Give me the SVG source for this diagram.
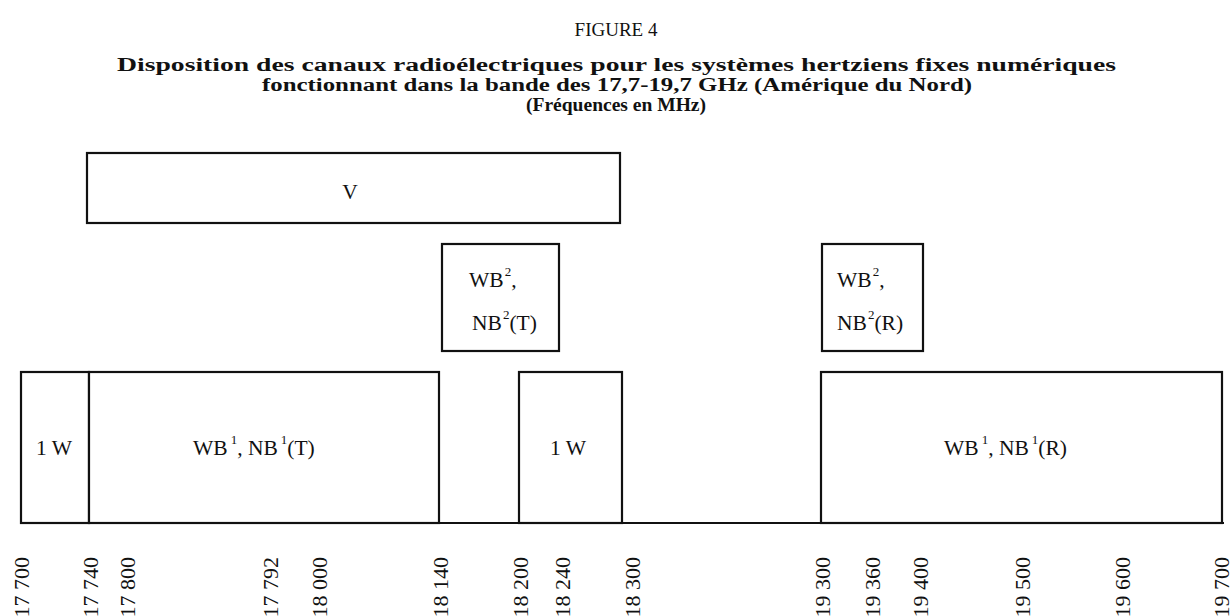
<svg xmlns="http://www.w3.org/2000/svg" width="1232" height="616" viewBox="0 0 1232 616">
<style>
  .t { font-family: "Liberation Serif", "Times New Roman", serif; fill: #111; }
  .title { font-size: 19px; }
  .bold { font-size: 18px; font-weight: bold; }
  .box { fill: #fff; stroke: #111; stroke-width: 2.2; }
  .lbl { font-size: 21.5px; }
  .sup { font-size: 13px; }
  .ax { font-size: 22px; text-anchor: end; }
  .line { stroke: #111; stroke-width: 2.2; fill: none; }
</style>
<rect width="1232" height="616" fill="#fff"/>
<g id="title">
  <text class="t title" x="616" y="36" text-anchor="middle">FIGURE 4</text>
  <text class="t bold" x="117" y="71" textLength="999" lengthAdjust="spacingAndGlyphs">Disposition des canaux radioélectriques pour les systèmes hertziens fixes numériques</text>
  <text class="t bold" x="262" y="91" textLength="710" lengthAdjust="spacingAndGlyphs">fonctionnant dans la bande des 17,7-19,7 GHz (Amérique du Nord)</text>
  <text class="t bold" x="616" y="111" text-anchor="middle" textLength="180" lengthAdjust="spacingAndGlyphs">(Fréquences en MHz)</text>
</g>
<g id="node-V">
  <rect class="box" x="87" y="153" width="533" height="70"/>
  <text class="t lbl" x="350" y="199" text-anchor="middle">V</text>
</g>
<g id="node-WB2T">
  <rect class="box" x="442" y="244" width="117" height="107"/>
  <text class="t lbl" x="469" y="287">WB<tspan class="sup" dx="1" dy="-11">2</tspan><tspan dy="11">,</tspan></text>
  <text class="t lbl" x="472" y="330">NB<tspan class="sup" dx="1" dy="-11">2</tspan><tspan dy="11">(T)</tspan></text>
</g>
<g id="node-WB2R">
  <rect class="box" x="822" y="244" width="101" height="107"/>
  <text class="t lbl" x="837" y="287">WB<tspan class="sup" dx="1" dy="-11">2</tspan><tspan dy="11">,</tspan></text>
  <text class="t lbl" x="837" y="330">NB<tspan class="sup" dx="1" dy="-11">2</tspan><tspan dy="11">(R)</tspan></text>
</g>
<g id="node-1W-a">
  <rect class="box" x="21" y="372" width="68" height="151"/>
  <text class="t lbl" x="54" y="455" text-anchor="middle">1 W</text>
</g>
<g id="node-WB1T">
  <rect class="box" x="89" y="372" width="350" height="151"/>
  <text class="t lbl" x="193" y="455">WB<tspan class="sup" dx="3" dy="-11">1</tspan><tspan dy="11">, NB</tspan><tspan class="sup" dx="3" dy="-11">1</tspan><tspan dy="11">(T)</tspan></text>
</g>
<g id="node-1W-b">
  <rect class="box" x="519" y="372" width="103" height="151"/>
  <text class="t lbl" x="568" y="455" text-anchor="middle">1 W</text>
</g>
<g id="node-WB1R">
  <rect class="box" x="821" y="372" width="401" height="151"/>
  <text class="t lbl" x="944" y="455">WB<tspan class="sup" dx="3" dy="-11">1</tspan><tspan dy="11">, NB</tspan><tspan class="sup" dx="3" dy="-11">1</tspan><tspan dy="11">(R)</tspan></text>
</g>
<g id="connectors">
  <line class="line" x1="20" y1="523" x2="1224" y2="523"/>
</g>
<g id="axis-labels">
  <text class="t ax" transform="translate(29,557) rotate(-90)">17 700</text>
  <text class="t ax" transform="translate(98,557) rotate(-90)">17 740</text>
  <text class="t ax" transform="translate(135,557) rotate(-90)">17 800</text>
  <text class="t ax" transform="translate(278,557) rotate(-90)">17 792</text>
  <text class="t ax" transform="translate(327,557) rotate(-90)">18 000</text>
  <text class="t ax" transform="translate(448,557) rotate(-90)">18 140</text>
  <text class="t ax" transform="translate(528,557) rotate(-90)">18 200</text>
  <text class="t ax" transform="translate(570,557) rotate(-90)">18 240</text>
  <text class="t ax" transform="translate(640,557) rotate(-90)">18 300</text>
  <text class="t ax" transform="translate(830,557) rotate(-90)">19 300</text>
  <text class="t ax" transform="translate(880,557) rotate(-90)">19 360</text>
  <text class="t ax" transform="translate(928,557) rotate(-90)">19 400</text>
  <text class="t ax" transform="translate(1030,557) rotate(-90)">19 500</text>
  <text class="t ax" transform="translate(1130,557) rotate(-90)">19 600</text>
  <text class="t ax" transform="translate(1229,557) rotate(-90)">19 700</text>
</g>
</svg>
